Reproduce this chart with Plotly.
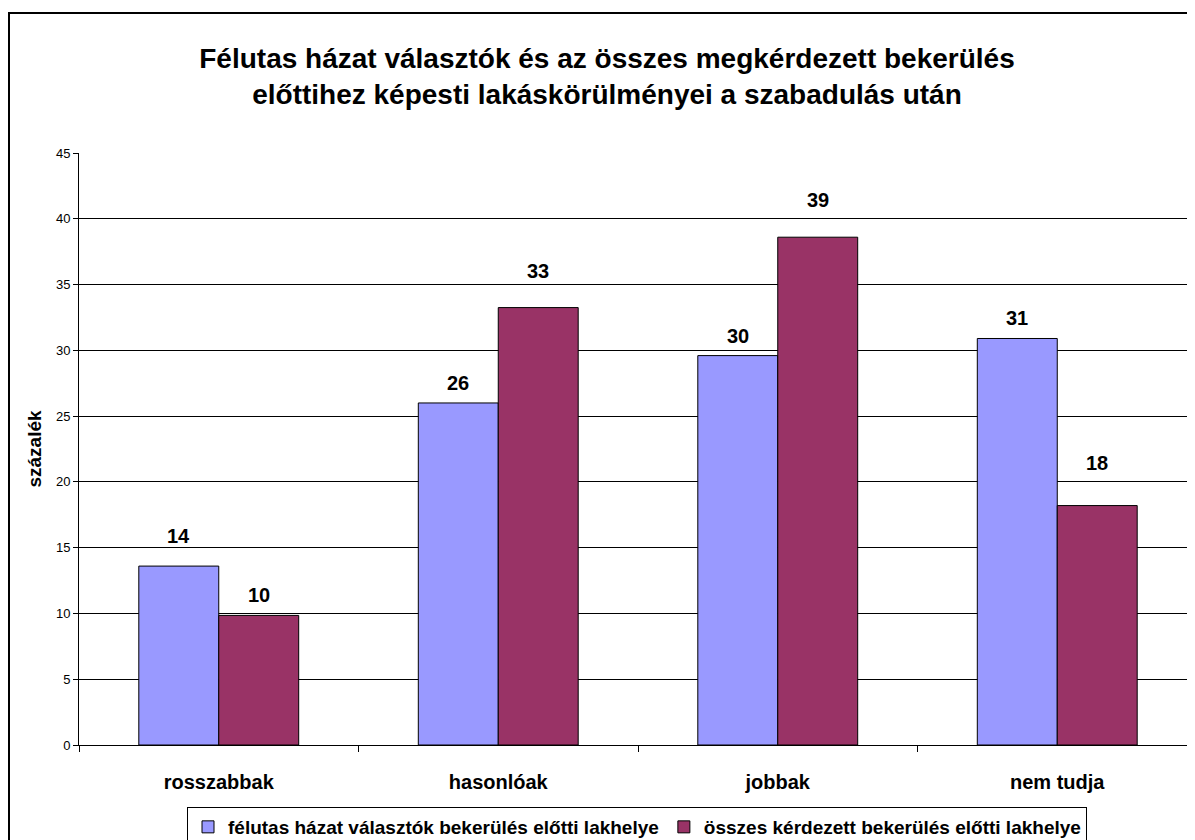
import plotly.graph_objects as go

categories = ["rosszabbak", "hasonlóak", "jobbak", "nem tudja"]
series_names = [
    "félutas házat választók bekerülés előtti lakhelye",
    "összes kérdezett bekerülés előtti lakhelye",
]
felutas_values = [13.6, 26.0, 29.6, 30.9]
osszes_values = [9.85, 33.25, 38.6, 18.2]
y_ticks = [0, 5, 10, 15, 20, 25, 30, 35, 40, 45]

# label vertical offsets (px) as placed in the original
felutas_label_shift = [30, 20, 20, 20]
osszes_label_shift = [20, 37, 37, 43]

colors = ["#9999FF", "#993366"]
FONT = "Liberation Sans, Arial, sans-serif"

W, H = 1195, 840
ML, MT, MB, MR = 71, 145, 103, 0
PW = W - ML - MR
PH = H - MT - MB
CAT_PX = 279.5

fig = go.Figure()
for name, vals, col in zip(series_names, [felutas_values, osszes_values], colors):
    fig.add_trace(go.Bar(
        x=categories, y=vals, name=name,
        marker=dict(color=col, line=dict(color="#000000", width=1)),
        hoverinfo="x+y",
    ))

annotations = []
for vals, shifts, xs in [(felutas_values, felutas_label_shift, -40),
                         (osszes_values, osszes_label_shift, 40)]:
    for c, v, s in zip(categories, vals, shifts):
        annotations.append(dict(
            x=c, y=v, xref="x", yref="y", text=f"{int(v + 0.5):d}",
            showarrow=False, xshift=xs, yshift=s,
            font=dict(family=FONT, size=20, color="black", weight="bold"),
        ))

fig.update_layout(
    width=W, height=H,
    margin=dict(l=ML, r=MR, t=MT, b=MB, autoexpand=False),
    paper_bgcolor="white", plot_bgcolor="white",
    title=dict(
        text="Félutas házat választók és az összes megkérdezett bekerülés<br>"
             "előttihez képesti lakáskörülményei a szabadulás után",
        x=(607 - 8) / W, xref="container", xanchor="center",
        y=1 - 60 / H, yref="container", yanchor="middle",
        font=dict(family=FONT, size=28, color="black", weight="bold"),
    ),
    barmode="group", bargap=0.428, bargroupgap=0,
    showlegend=True,
    legend=dict(
        orientation="h", x=(637 - 8 - ML) / PW, xanchor="center",
        y=-(799 - (H - MB)) / PH, yanchor="top",
        bordercolor="black", borderwidth=1, bgcolor="white",
        font=dict(family=FONT, size=19, color="black", weight="bold"),
        tracegroupgap=0,
    ),
    annotations=annotations,
    shapes=[dict(type="rect", xref="paper", yref="paper",
                 x0=(1 - ML) / PW, x1=1.05, y0=-0.3, y1=1 + (MT - 5) / PH,
                 line=dict(color="black", width=2), layer="below")],
)

fig.update_xaxes(
    type="category", range=[-0.5, -0.5 + PW / CAT_PX],
    showline=True, linecolor="black", linewidth=1,
    ticks="outside", tickson="boundaries", ticklen=6, tickcolor="black",
    ticklabelstandoff=19, showgrid=False,
    tickfont=dict(family=FONT, size=20, color="black", weight="bold"),
)
fig.update_yaxes(
    range=[0, 45], tickvals=y_ticks, ticktext=[str(t) for t in y_ticks],
    showline=True, linecolor="black", linewidth=1,
    ticks="outside", ticklen=5, tickcolor="black",
    showgrid=True, gridcolor="black", gridwidth=1, zeroline=False,
    tickfont=dict(family=FONT, size=13, color="black"),
    title=dict(text="százalék", standoff=9,
               font=dict(family=FONT, size=19, color="black", weight="bold")),
)

fig.write_html("out.html")
